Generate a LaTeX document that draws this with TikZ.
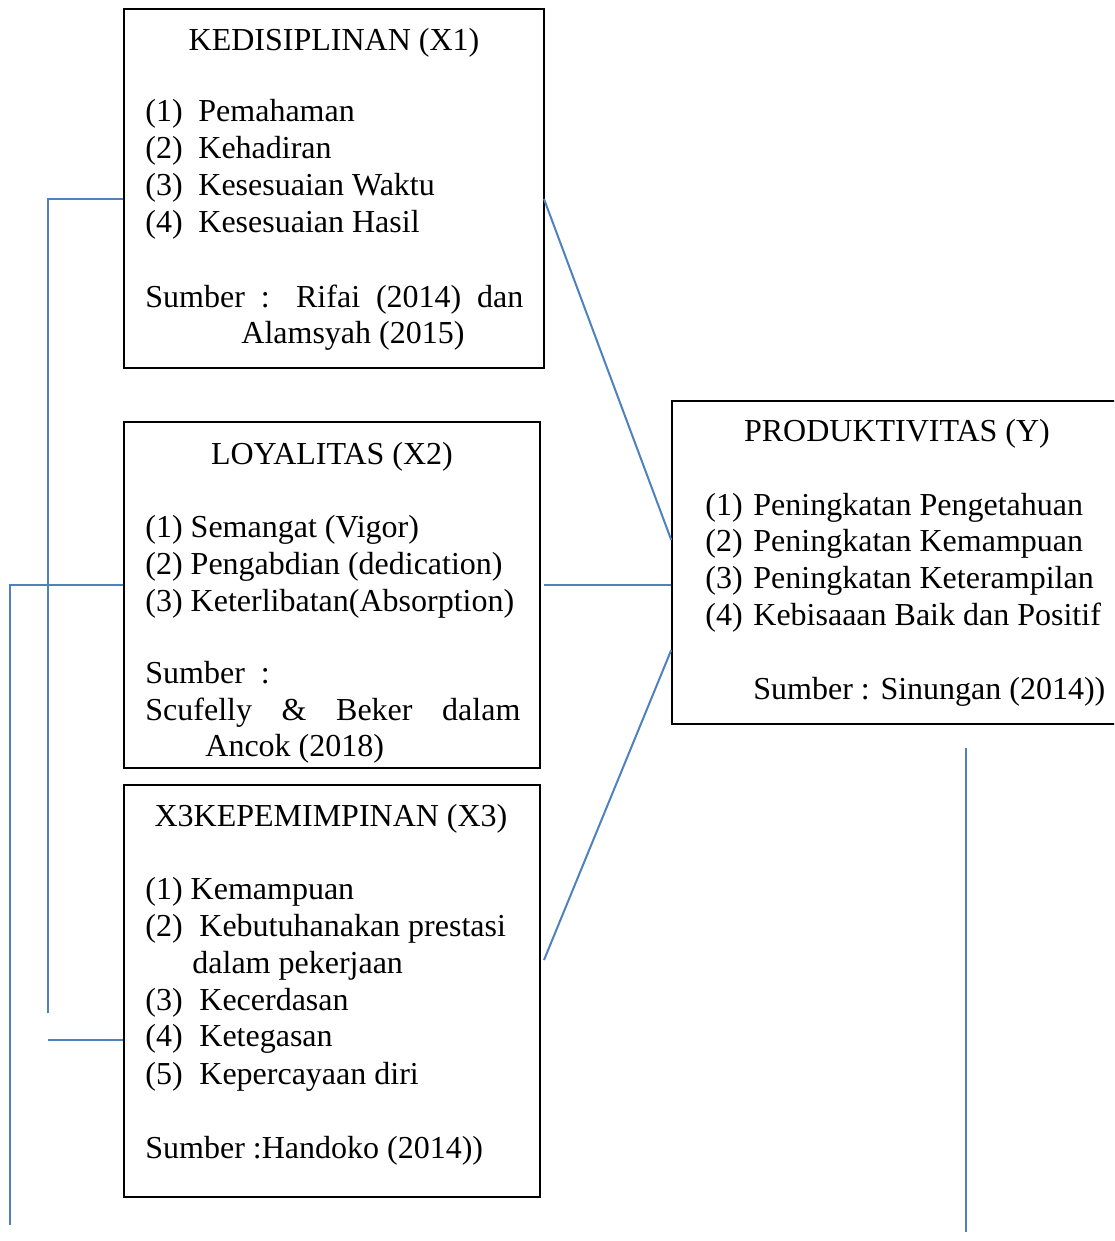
\documentclass[tikz,border=0pt]{standalone}
\usepackage{fontspec}
\setmainfont{Liberation Serif}
\usetikzlibrary{fit}
\definecolor{conn}{RGB}{79,129,189}
\begin{document}
\begin{tikzpicture}[x=0.5pt,y=-0.5pt,
  box/.style={draw=black,line width=0.75pt,inner sep=0pt},
  txt/.style={anchor=base west,inner sep=0pt,yshift=-1pt,font=\fontsize{16}{18}\selectfont},
  ttl/.style={anchor=base,inner sep=0pt,yshift=-1pt,font=\fontsize{16}{18}\selectfont},
  link/.style={draw=conn,line width=1pt}]
\useasboundingbox (0,0) rectangle (1114,1241);
\clip (0,0) rectangle (1114,1241);
% boxes
\node[box,fit={(124,9) (544,368)}] (x1) {};
\node[box,fit={(124,422) (540,768)}] (x2) {};
\node[box,fit={(124,785) (540,1197)}] (x3) {};
\node[box,fit={(672,401) (1130,724)}] (y) {};
% box 1 text
\node[ttl] (t1) at (334,49) {KEDISIPLINAN (X1)};
\node[txt] (a1n) at (145,120) {(1)}; \node[txt] (a1) at (198,120) {Pemahaman};
\node[txt] (a2n) at (145,157) {(2)}; \node[txt] (a2) at (198,157) {Kehadiran};
\node[txt] (a3n) at (145,194) {(3)}; \node[txt] (a3) at (198,194) {Kesesuaian Waktu};
\node[txt] (a4n) at (145,231) {(4)}; \node[txt] (a4) at (198,231) {Kesesuaian Hasil};
\node[txt] (s1) at (145,305) {\makebox[189pt][s]{Sumber : Rifai (2014) dan}};
\node[txt] (s1b) at (241,341) {Alamsyah (2015)};
% box 2 text
\node[ttl] (t2) at (332,462) {LOYALITAS (X2)};
\node[txt] (b1) at (145,535) {(1) Semangat (Vigor)};
\node[txt] (b2) at (145,572) {(2) Pengabdian (dedication)};
\node[txt] (b3) at (145,609) {(3) Keterlibatan(Absorption)};
\node[txt] (s2) at (145,681) {Sumber\ \ :};
\node[txt] (s2b) at (145,718) {\makebox[187.5pt][s]{Scufelly \& Beker dalam}};
\node[txt] (s2c) at (205,754) {Ancok (2018)};
% box 3 text
\node[ttl] (t3) at (331,824) {X3KEPEMIMPINAN (X3)};
\node[txt] (c1) at (145,897) {(1) Kemampuan};
\node[txt] (c2n) at (145,934) {(2)}; \node[txt] (c2) at (199,934) {Kebutuhanakan prestasi};
\node[txt] (c2b) at (192,971) {dalam pekerjaan};
\node[txt] (c3n) at (145,1008) {(3)}; \node[txt] (c3) at (199,1008) {Kecerdasan};
\node[txt] (c4n) at (145,1044) {(4)}; \node[txt] (c4) at (199,1044) {Ketegasan};
\node[txt] (c5n) at (145,1082) {(5)}; \node[txt] (c5) at (199,1082) {Kepercayaan diri};
\node[txt] (s3) at (145,1156) {Sumber :Handoko (2014))};
% box Y text
\node[ttl] (ty) at (897,439) {PRODUKTIVITAS (Y)};
\node[txt] (d1n) at (705,513) {(1)}; \node[txt] (d1) at (753,513) {Peningkatan Pengetahuan};
\node[txt] (d2n) at (705,549) {(2)}; \node[txt] (d2) at (753,549) {Peningkatan Kemampuan};
\node[txt] (d3n) at (705,586) {(3)}; \node[txt] (d3) at (753,586) {Peningkatan Keterampilan};
\node[txt] (d4n) at (705,623) {(4)}; \node[txt] (d4) at (753,623) {Kebisaaan Baik dan Positif};
\node[txt] (sy) at (753,697) {Sumber : Sinungan (2014))};
% connector coordinates
\coordinate (p1) at (48,1013);
\coordinate (p2) at (10,1225);
\coordinate (p3) at (48,1040);
\coordinate (p4) at (966,748);
\coordinate (p5) at (966,1232);
% connectors
\draw[link] (p1) -- (48,199) -- (x1.west |- 0,199);
\draw[link] (p2) -- (10,585) -- (x2.west |- 0,585);
\draw[link] (p3) -- (x3.west |- p3);
\draw[link] (544,199) -- (y.west |- 0,540);
\draw[link] (544,585) -- (y.west |- 0,585);
\draw[link] (544,960) -- (y.west |- 0,650);
\draw[link] (p4) -- (p5);
\end{tikzpicture}
\end{document}
